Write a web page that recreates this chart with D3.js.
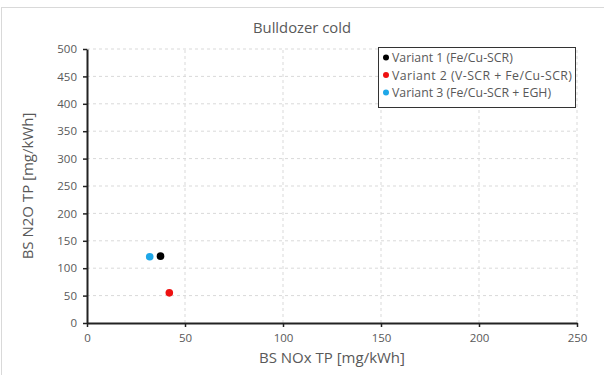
<!DOCTYPE html>
<html><head><meta charset="utf-8">
<script src="https://cdn.jsdelivr.net/npm/d3@7"></script>
<style>body{margin:0;background:#fff;}svg{display:block;font-family:"Open Sans","Noto Sans",sans-serif;}</style>
</head><body><svg id="c" width="604" height="375"></svg>
<script>
const seriesNames = ["Variant 1 (Fe/Cu-SCR)", "Variant 2 (V-SCR + Fe/Cu-SCR)", "Variant 3 (Fe/Cu-SCR + EGH)"];
const seriesColors = ["#000000", "#ee1111", "#1ea7e8"];
const noxValues = [37.5, 42, 32];
const n2oValues = [122, 55, 121];
const xTicks = [0, 50, 100, 150, 200, 250];
const yTicks = [0, 50, 100, 150, 200, 250, 300, 350, 400, 450, 500];

const svg = d3.select("#c");
const txt = "#595959";
svg.append("rect").attr("x",1.5).attr("y",7.5).attr("width",620).attr("height",400)
  .attr("fill","#fff").attr("stroke","#d9d9d9");

const x = d3.scaleLinear().domain([0,250]).range([87,577]);
const y = d3.scaleLinear().domain([0,500]).range([323,49]);

// grid
svg.append("g").selectAll("line").data(xTicks.slice(1)).join("line")
  .attr("x1",d=>x(d)).attr("x2",d=>x(d)).attr("y1",y(0)).attr("y2",y(500))
  .attr("stroke","#d9d9d9").attr("stroke-dasharray","3,3");
svg.append("g").selectAll("line").data(yTicks.slice(1)).join("line")
  .attr("x1",x(0)).attr("x2",x(250)).attr("y1",d=>y(d)).attr("y2",d=>y(d))
  .attr("stroke","#d9d9d9").attr("stroke-dasharray","3,3");

// axes
const xa = svg.append("g").attr("transform",`translate(0,${y(0)})`)
  .call(d3.axisBottom(x).tickValues(xTicks).tickSize(4).tickPadding(7).tickSizeOuter(0));
const ya = svg.append("g").attr("transform",`translate(${x(0)},0)`)
  .call(d3.axisLeft(y).tickValues(yTicks).tickSize(4).tickPadding(6).tickSizeOuter(0));
[xa,ya].forEach(a=>{
  a.select(".domain").attr("stroke","#222").attr("stroke-width",2);
  a.selectAll(".tick line").attr("stroke","#222").attr("stroke-width",1.5);
  a.selectAll(".tick text").attr("fill",txt).attr("font-size",11.5).attr("font-family","Open Sans, sans-serif");
});

// points
const pts = noxValues.map((v,i)=>({x:v,y:n2oValues[i],c:seriesColors[i]}));
svg.append("g").selectAll("circle").data(pts).join("circle")
  .attr("cx",d=>x(d.x)).attr("cy",d=>y(d.y)).attr("r",3.8).attr("fill",d=>d.c);

// title
svg.append("text").attr("x",302).attr("y",33).attr("text-anchor","middle")
  .attr("fill",txt).attr("font-size",14.8).text("Bulldozer cold");
svg.append("text").attr("x",332).attr("y",363).attr("text-anchor","middle")
  .attr("fill",txt).attr("font-size",15).text("BS NOx TP [mg/kWh]");
svg.append("text").attr("transform","translate(33,186) rotate(-90)").attr("text-anchor","middle")
  .attr("fill",txt).attr("font-size",15).text("BS N2O TP [mg/kWh]");

// legend
const lg = svg.append("g");
lg.append("rect").attr("x",378.5).attr("y",47.5).attr("width",197).attr("height",60)
  .attr("fill","#fff").attr("stroke","#333");
seriesNames.forEach((n,i)=>{
  const yy = 57.5 + i*17.5;
  lg.append("circle").attr("cx",386).attr("cy",yy).attr("r",3).attr("fill",seriesColors[i]);
  lg.append("text").attr("x",392).attr("y",yy+4.5).attr("fill",txt).attr("font-size",12.3)
    .attr("textLength", i===1?180:null).text(n);
});
</script></body></html>
